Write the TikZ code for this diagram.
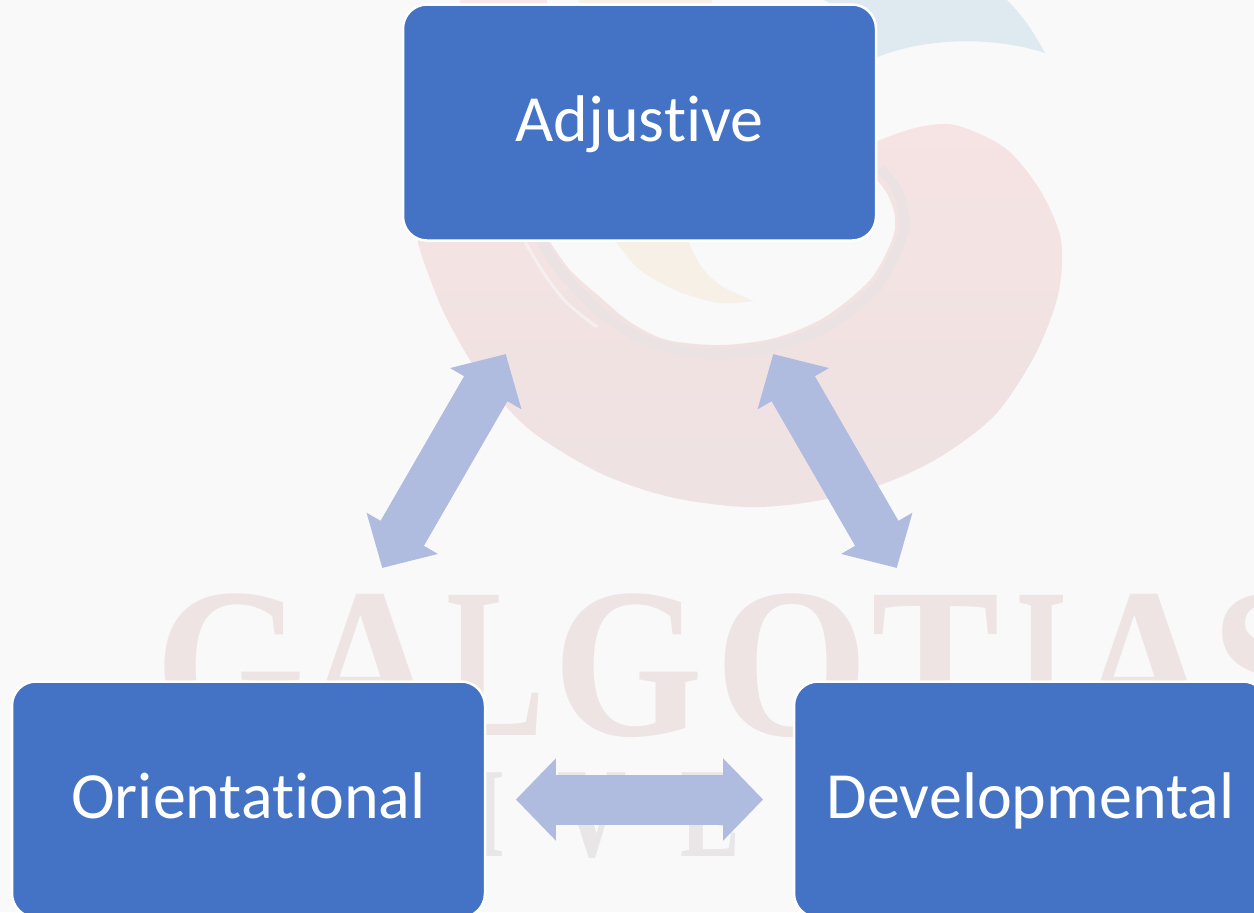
\documentclass[tikz,border=0pt]{standalone}
\usepackage{fontspec}
\setmainfont[Ligatures=NoCommon]{Carlito}
\newfontfamily\wmfont{Liberation Serif}
\usetikzlibrary{arrows.meta}
\definecolor{boxblue}{HTML}{4472C4}
\definecolor{linkblue}{HTML}{AFBBDF}
\definecolor{paper}{HTML}{F9F9F9}
\definecolor{swirltop}{HTML}{F6E3E3}
\definecolor{swirlbottom}{HTML}{EEE2E2}
\definecolor{swirlband}{HTML}{EBE3E3}
\definecolor{swirlstreak}{HTML}{F7EFEF}
\definecolor{crescent}{HTML}{DEE9F0}
\definecolor{flame}{HTML}{F6F0E6}
\definecolor{wmred}{HTML}{EEE4E4}
\definecolor{wmgrey}{HTML}{E8E6E6}
\tikzset{
	stagebox/.style={draw=white, line width=1.25pt, fill=boxblue, text=white, rounded corners=12pt,
		minimum width=236.5pt, minimum height=118pt, inner sep=0pt, text height=24pt, text depth=5pt,
		font=\fontsize{33}{38}\selectfont},
	stagelink/.style={draw=linkblue, line width=25pt, shorten >=133.7pt, shorten <=133.7pt,
		{Triangle[length=20pt,width=40pt]}-{Triangle[length=20pt,width=40pt]}},
}
\begin{document}
\begin{tikzpicture}[x=0.5pt, y=-0.5pt]
	\useasboundingbox (0,0) rectangle (1254,912);
	\fill[paper] (0,0) rectangle (1254,912);
	% faded logo behind the boxes
	\shade[top color=swirltop, bottom color=swirlbottom] plot[smooth] coordinates {(875,142) (915,128) (955,125) (1005,148) (1040,190) (1061,240) (1058,295) (1035,355) (995,415) (940,457) (880,485) (810,502) (745,507) (670,497) (600,473) (530,430) (480,375) (445,315) (425,265) (418,243)}
		-- (420,200) -- (540,200) -- plot[smooth] coordinates {(550,242) (570,270) (600,297) (630,322) (667,340) (721,345) (775,338) (825,317) (870,280) (892,240) (895,217) (888,195) (877,180)} -- cycle;
	\draw[swirlband, line width=5pt] plot[smooth] coordinates {(538,236) (560,270) (600,312) (640,338) (680,350) (721,354) (775,346) (830,325) (878,285) (901,240) (904,217) (897,190) (880,168)};
	\draw[swirlstreak, line width=1.5pt] plot[smooth] coordinates {(525,242) (545,275) (567,303) (597,327)};
	\fill[flame] plot[smooth] coordinates {(613,238) (640,270) (680,292) (720,303) (753,301)} -- plot[smooth] coordinates {(753,301) (720,285) (700,265) (687,238)} -- cycle;
	\fill[crescent] (824,0) -- (1007,0) .. controls (1025,18) and (1035,35) .. (1045,53) .. controls (1000,38) and (930,35) .. (875,58) -- (860,20) -- cycle;
	\fill[red!8!paper] (460,0) rectangle (547,3);
	\fill[flame] (579,0) rectangle (712,3);
	\foreach \ltr/\x/\w [count=\i] in {G/230/.9,A/370/.9,L/496/.69,G/628/.9,O/792/.92,T/936/.9,I/1042/.63,A/1144/.9,S/1270/1}
		\node[text=wmred, font=\wmfont\bfseries\fontsize{107}{107}\selectfont, anchor=base, inner sep=0pt, xscale=\w] (brand\i) at (\x,735) {\ltr};
	\foreach \ltr/\x/\w in {I/488/.7,V/592/.75,E/710/.7}
		\node[text=wmgrey, font=\wmfont\bfseries\fontsize{64}{64}\selectfont, anchor=base, inner sep=0pt, xscale=\w] (sub\ltr) at (\x,856) {\ltr};
	% the three boxes
	\node[stagebox] (adj) at (639.5,122.5) {Adjustive};
	\node[stagebox] (orient) at (248.5,799.5) {Orientational};
	\node[stagebox] (devel) at (1030.5,799.5) {Developmental};
	\draw[stagelink] (orient.center) -- (adj.center);
	\draw[stagelink] (devel.center) -- (adj.center);
	\draw[stagelink] (orient.center) -- (devel.center);
\end{tikzpicture}
\end{document}
